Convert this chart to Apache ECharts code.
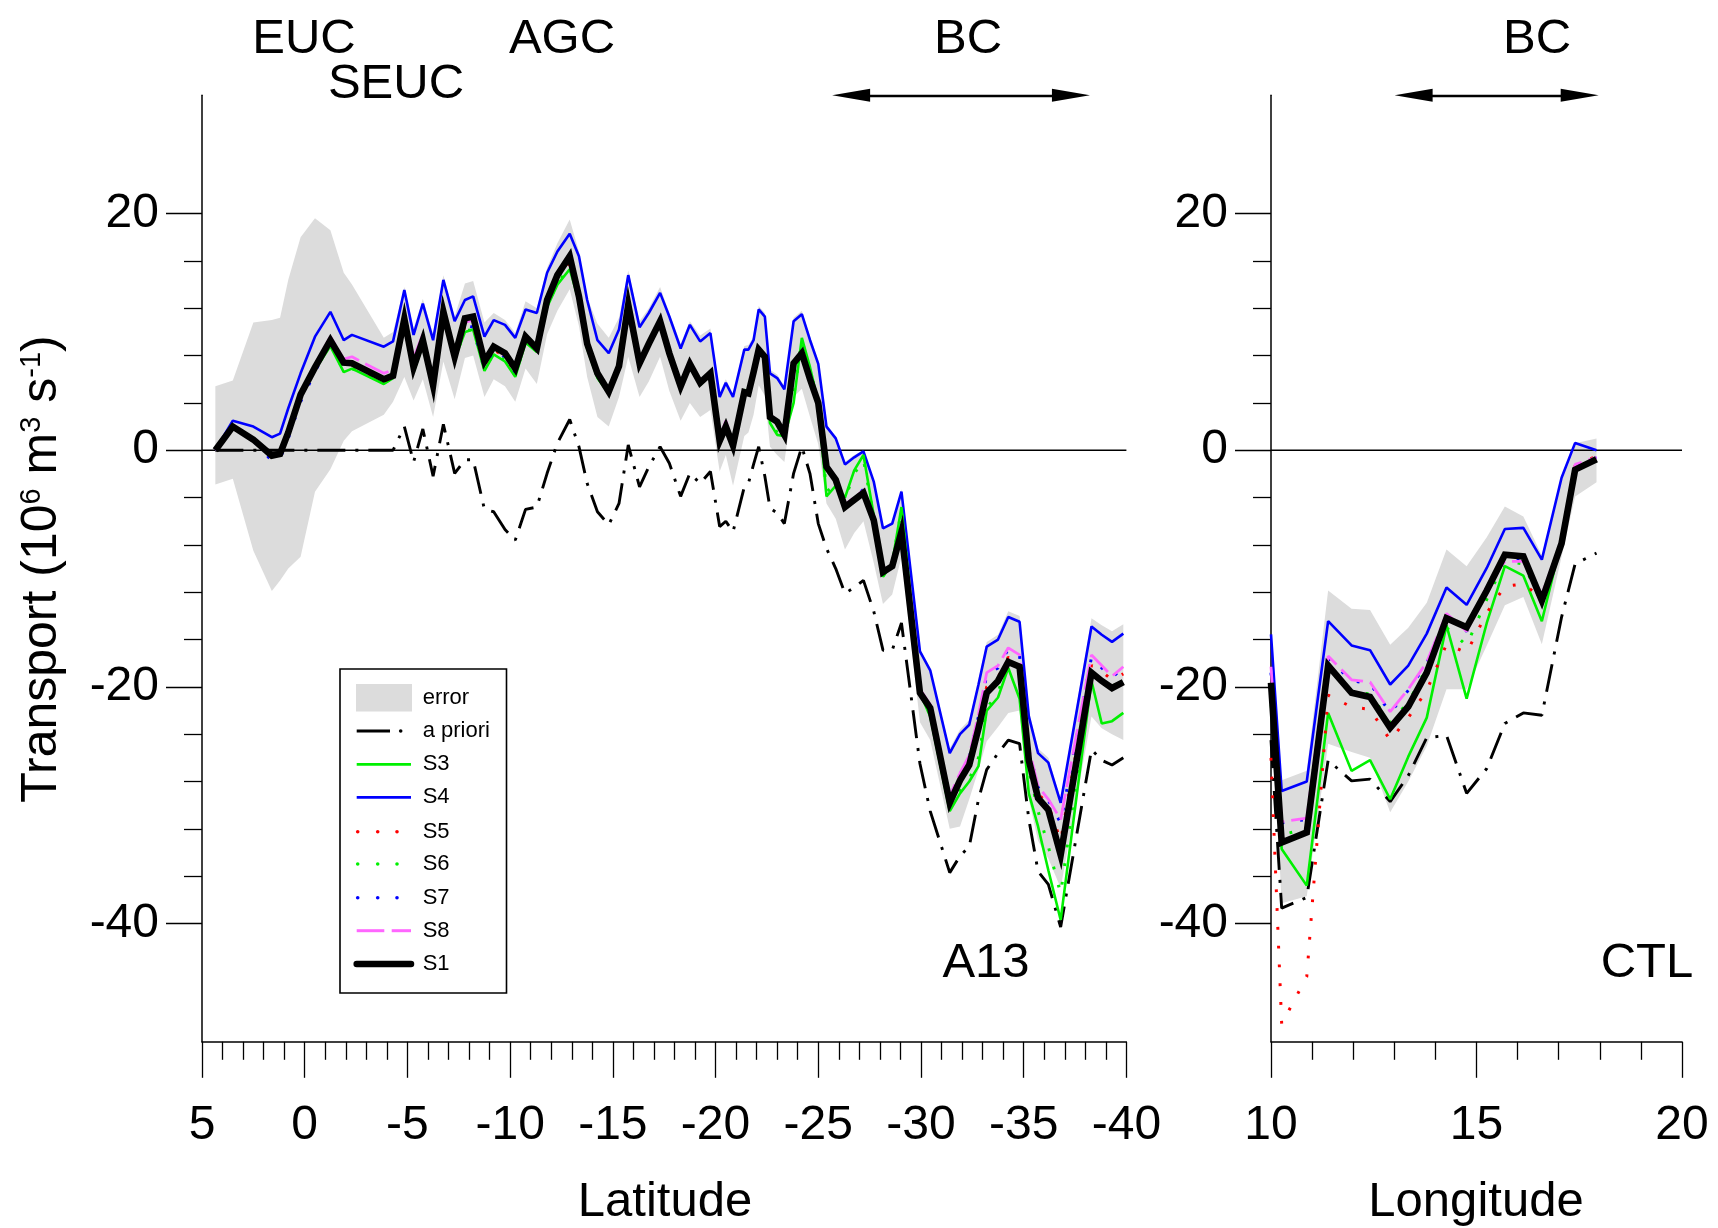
<!DOCTYPE html>
<html><head><meta charset="utf-8">
<script src="https://cdn.jsdelivr.net/npm/echarts@6/dist/echarts.min.js"></script>
<style>html,body{margin:0;padding:0;background:#fff}#c{width:1718px;height:1228px}</style>
</head><body><div id="c"></div>
<script>
// ---------------- DATA: A13 section (latitude) ----------------
const LAT_A13 = [4.35,3.5,2.5,1.6,1.2,0.8,0.2,-0.5,-1.25,-1.9,-2.3,-3.85,-4.3,-4.85,-5.3,-5.75,-6.25,-6.75,-7.3,-7.8,-8.2,-8.75,-9.2,-9.75,-10.25,-10.75,-11.3,-11.8,-12.3,-12.9,-13.35,-13.75,-14.25,-14.8,-15.3,-15.75,-16.3,-16.75,-17.3,-17.75,-18.3,-18.75,-19.25,-19.75,-20.2,-20.5,-20.85,-21.4,-21.6,-21.85,-22.1,-22.4,-22.65,-23.0,-23.35,-23.8,-24.2,-24.6,-25.0,-25.4,-25.85,-26.3,-26.75,-27.2,-27.7,-28.15,-28.6,-29.05,-29.95,-30.45,-31.4,-31.9,-32.35,-32.8,-33.2,-33.75,-34.25,-34.8,-35.25,-35.7,-36.2,-36.8,-38.3,-38.8,-39.3,-39.85];
const S1_A13 = [0,2.0,0.9,-0.45,-0.3,1.5,4.7,7.0,9.3,7.4,7.35,6.0,6.3,11.1,7.0,9.3,5.5,11.7,7.9,11.15,11.3,7.5,8.75,8.2,6.9,9.6,8.6,12.7,14.8,16.4,13.0,9.0,6.5,4.95,7.1,12.3,7.35,9.0,10.9,8.2,5.4,7.3,5.7,6.5,0.8,2.0,0.4,4.9,4.8,6.6,8.5,7.9,2.8,2.4,1.3,7.35,8.2,6.0,4.0,-1.4,-2.5,-4.8,-4.2,-3.6,-5.9,-10.3,-9.8,-6.9,-20.5,-21.8,-29.8,-27.9,-26.6,-23.5,-20.5,-19.5,-17.9,-18.3,-26.2,-29.4,-30.4,-34.2,-18.8,-19.5,-20.1,-19.6];
const S3_A13 = [0,1.9,0.9,-0.45,-0.3,1.5,4.6,6.8,8.8,6.6,6.9,5.6,6.1,10.8,6.6,8.9,5.3,11.2,7.7,10.0,10.2,6.7,8.1,7.5,6.2,9.1,8.3,12.1,14.0,15.3,12.6,8.6,6.1,4.8,6.9,12.0,7.2,8.9,10.9,8.0,5.2,7.4,5.5,6.7,1.0,2.3,0.6,5.1,5.0,6.8,8.3,7.8,2.3,1.3,1.2,4.0,9.5,7.0,4.0,-3.9,-3.0,-4.0,-1.7,-0.4,-5.5,-10.7,-9.55,-4.8,-20.5,-22.5,-30.5,-29.0,-28.0,-26.7,-22.0,-20.9,-18.4,-21.0,-29.0,-31.8,-35.5,-39.7,-19.5,-23.1,-22.9,-22.2];
const S4_A13 = [0,2.5,2.0,1.1,1.4,3.55,6.5,9.6,11.7,9.3,9.75,8.75,9.2,13.55,9.75,12.4,9.3,14.4,10.9,12.7,13.0,9.6,11.0,10.6,9.5,11.9,11.6,15.0,16.8,18.3,16.4,12.7,9.3,8.2,10.2,14.8,10.4,11.6,13.3,11.3,8.6,10.6,9.2,9.9,4.5,5.7,4.5,8.5,8.5,9.3,11.9,11.3,6.5,6.1,5.15,10.9,11.5,9.3,7.3,2.0,1.0,-1.2,-0.6,-0.1,-2.65,-6.6,-6.2,-3.5,-17.0,-18.6,-25.6,-24.0,-23.2,-19.8,-16.6,-16.0,-14.1,-14.5,-22.5,-25.6,-26.4,-29.8,-14.9,-15.6,-16.2,-15.5];
const S5_A13 = [0,2.0,0.9,-0.5,-0.3,1.4,4.6,6.9,9.1,7.2,7.2,5.8,6.2,11.0,6.9,9.2,5.4,11.5,7.8,10.5,10.6,7.2,8.5,7.9,6.6,9.4,8.5,12.4,14.5,15.9,12.8,8.8,6.3,4.9,7.0,12.2,7.3,9.0,10.9,8.1,5.3,7.3,5.6,6.5,0.9,2.2,0.5,5.0,4.9,6.7,8.5,7.9,2.7,2.3,1.3,7.2,8.2,6.0,4.0,-1.5,-2.6,-4.8,-4.0,-3.5,-5.9,-10.2,-9.7,-6.8,-20.4,-21.7,-29.5,-27.6,-26.2,-23.0,-20.0,-19.2,-17.5,-18.0,-25.8,-29.0,-30.0,-33.0,-18.2,-18.7,-19.4,-18.9];
const S6_A13 = [0,1.9,0.9,-0.5,-0.3,1.5,4.6,6.8,8.9,6.7,6.9,5.7,6.1,10.9,6.7,9.0,5.3,11.3,7.7,10.1,10.2,6.8,8.2,7.6,6.3,9.2,8.4,12.2,14.1,15.5,12.7,8.7,6.2,4.8,6.9,12.1,7.2,8.9,10.9,8.0,5.2,7.4,5.5,6.6,1.0,2.3,0.6,5.1,5.0,6.8,8.3,7.8,2.4,1.5,1.2,4.5,9.3,6.8,4.0,-3.5,-2.9,-4.1,-2.0,-0.8,-5.7,-10.6,-9.6,-5.0,-20.5,-22.3,-30.3,-28.8,-27.8,-26.0,-21.8,-20.5,-17.8,-18.5,-27.0,-30.5,-33.5,-37.5,-18.6,-19.5,-20.0,-19.3];
const S7_A13 = [0,2.0,0.8,-0.9,-0.7,1.0,4.1,6.6,9.2,7.3,7.3,6.0,6.3,11.1,7.0,9.3,5.5,11.7,7.9,10.6,10.4,7.0,8.5,7.9,6.6,9.4,8.5,12.5,14.6,16.0,12.9,8.9,6.4,4.9,7.0,12.2,7.3,9.0,10.9,8.1,5.3,7.3,5.6,6.5,0.9,2.2,0.5,5.0,4.9,6.7,8.5,7.9,2.8,2.4,1.3,7.3,8.2,6.0,4.0,-1.4,-2.5,-4.8,-4.1,-3.3,-5.9,-10.2,-9.7,-6.8,-20.3,-21.6,-29.3,-27.4,-25.9,-22.5,-19.0,-18.4,-16.8,-17.4,-25.3,-28.5,-29.6,-31.5,-17.5,-18.4,-19.2,-18.4];
const S8_A13 = [0,2.0,0.9,-0.45,-0.3,1.5,4.7,7.2,9.6,7.7,7.9,6.5,6.8,11.3,7.8,9.8,5.9,11.9,8.2,10.8,11.0,7.4,8.6,8.0,6.8,9.5,8.7,12.8,15.0,16.0,13.0,9.0,6.7,5.1,7.2,12.3,7.5,9.2,11.0,8.4,5.6,7.6,5.9,6.5,1.0,2.5,0.5,5.0,4.9,6.7,8.6,8.0,3.0,2.5,1.4,7.4,8.3,6.2,4.1,-1.2,-2.3,-4.6,-4.0,-3.4,-5.7,-10.1,-9.6,-6.6,-20.2,-21.5,-29.2,-27.3,-25.8,-22.3,-18.8,-18.2,-16.7,-17.3,-25.2,-28.4,-29.5,-31.2,-17.3,-18.2,-19.1,-18.3];
const APRIORI_A13 = [0,0,0,0,0,0,0,0,0,0,0,0,0,2.0,-1.0,1.8,-2.2,2.2,-1.95,-0.8,-0.8,-5.0,-5.2,-6.7,-7.6,-5.0,-4.8,-1.95,0.6,2.6,0.3,-2.8,-5.2,-6.3,-4.5,0.45,-3.1,-1.4,0.3,-1.1,-3.9,-1.95,-2.8,-1.8,-6.45,-6.0,-6.9,-3.1,-2.8,-1.2,0.3,-2.2,-4.9,-5.3,-6.2,-1.95,0.3,-2.0,-6.2,-8.3,-10.0,-12.1,-11.6,-11.0,-13.6,-16.9,-16.9,-14.6,-26.5,-30.5,-35.7,-34.3,-33.5,-29.5,-27.0,-25.6,-24.5,-24.8,-31.2,-35.6,-36.7,-40.3,-25.3,-26.2,-26.6,-26.0];
const ERR_LO_A13 = [-2.9,-2.4,-8.5,-11.9,-11.0,-10.0,-9.0,-3.5,-1.6,0.8,1.6,3.0,4.1,6.2,4.2,6.0,2.8,7.5,4.3,7.8,8.0,4.5,6.0,5.4,4.1,6.9,5.6,9.8,11.8,13.6,10.5,6.2,2.8,2.0,4.5,7.9,4.5,5.8,7.9,5.0,2.5,4.0,2.8,3.4,-1.8,-0.4,-3.0,1.2,1.5,3.0,5.5,4.6,0.3,-0.4,-1.0,4.5,5.2,2.8,0.5,-4.5,-5.8,-8.4,-7.0,-6.0,-9.5,-13.0,-12.2,-9.0,-23.0,-24.5,-32.0,-31.8,-29.5,-27.0,-24.6,-23.4,-22.2,-22.0,-29.5,-33.0,-34.5,-37.0,-22.5,-23.5,-24.0,-24.5];
const ERR_HI_A13 = [5.4,5.9,10.8,11.0,11.2,14.4,18.0,19.6,18.6,15.0,14.0,9.5,10.0,13.8,10.3,12.8,9.8,14.8,11.3,14.1,14.3,10.8,11.6,11.0,9.9,12.6,12.0,15.4,17.5,19.5,16.8,12.9,10.7,9.5,11.2,15.2,10.9,12.0,13.8,11.6,9.0,10.9,9.7,10.3,4.9,6.0,4.8,8.8,8.9,9.6,12.2,11.6,6.8,6.4,5.4,11.2,11.8,9.6,7.6,2.2,1.1,-1.0,-0.4,0.0,-2.5,-6.5,-6.0,-3.3,-16.8,-18.4,-25.2,-23.6,-22.8,-19.4,-16.2,-15.6,-13.6,-14.0,-22.0,-25.2,-26.0,-29.5,-14.2,-14.8,-15.3,-14.7];

// ---------------- DATA: CTL section (longitude) ----------------
const LON_CTL = [10.0,10.26,10.87,11.39,11.96,12.41,12.9,13.34,13.79,14.27,14.76,15.25,15.69,16.14,16.59,17.07,17.4,17.92];
const S1_CTL = [-19.65,-33.15,-32.3,-18.2,-20.5,-20.85,-23.45,-21.66,-18.8,-14.2,-14.97,-11.86,-8.84,-8.98,-12.7,-7.87,-1.64,-0.77];
const S3_CTL = [-21.5,-33.7,-36.8,-22.2,-27.1,-26.2,-29.5,-25.9,-22.6,-14.8,-21.0,-14.6,-9.8,-10.6,-14.45,-7.6,-1.6,-0.9];
const S4_CTL = [-15.56,-28.8,-28.0,-14.45,-16.5,-16.9,-19.8,-18.2,-15.5,-11.6,-13.06,-9.95,-6.66,-6.56,-9.25,-2.33,0.62,0.0];
const S5_CTL = [-26.0,-48.5,-44.5,-20.7,-21.7,-21.9,-24.5,-22.6,-20.3,-16.4,-17.1,-13.75,-11.5,-11.3,-12.5,-7.8,-1.3,-0.5];
const S6_CTL = [-20.5,-32.5,-32.0,-18.5,-20.4,-20.6,-23.0,-21.3,-18.4,-15.0,-16.5,-12.6,-9.4,-9.6,-12.9,-7.9,-1.5,-0.7];
const S7_CTL = [-18.8,-31.5,-31.2,-17.6,-19.5,-19.7,-22.2,-20.3,-18.0,-13.9,-15.3,-11.6,-9.3,-9.2,-12.4,-7.7,-1.3,-0.6];
const S8_CTL = [-18.3,-31.4,-31.1,-17.4,-19.4,-19.6,-22.1,-20.2,-17.9,-13.8,-15.3,-11.5,-9.4,-9.4,-12.2,-7.6,-1.2,-0.6];
const APRIORI_CTL = [-24.5,-38.7,-37.8,-26.2,-27.95,-27.8,-29.7,-27.5,-24.3,-24.1,-29.0,-26.9,-23.1,-22.2,-22.4,-14.1,-9.6,-8.7];
const ERR_LO_CTL = [-21.0,-38.3,-37.7,-24.8,-25.5,-26.0,-30.6,-28.0,-25.0,-20.2,-20.2,-16.5,-13.1,-12.4,-16.4,-9.0,-3.9,-2.7];
const ERR_HI_CTL = [-18.5,-27.9,-27.1,-11.85,-13.4,-13.5,-16.45,-15.0,-12.9,-8.4,-9.8,-7.35,-4.76,-5.6,-8.9,-2.3,0.6,1.0];

// ---------------- axes / annotations ----------------
const LAT_RANGE = [-40, 5];
const LON_RANGE = [10, 20];
const Y_RANGE = [-50, 30];
const Y_MAJOR = [-40, -20, 0, 20];
const Y_MINOR = [-36, -32, -28, -24, -16, -12, -8, -4, 4, 8, 12, 16];
const BC_A13 = [-26.6, -37.3];
const BC_CTL = [13.47, 17.51];
const LEGEND_LABELS = ['error', 'a priori', 'S3', 'S4', 'S5', 'S6', 'S7', 'S8', 'S1'];

const FONT = '"Liberation Sans", Arial, Helvetica, sans-serif';
const chart = echarts.init(document.getElementById('c'), null, {renderer: 'canvas'});
const pairs = (xs, ys) => xs.map((x, i) => [x, ys[i]]);

function bandRender(xs, lo, hi) {
  return function (params, api) {
    if (params.dataIndex !== 0) return null;
    const pts = [];
    for (let i = 0; i < xs.length; i++) pts.push(api.coord([xs[i], hi[i]]));
    for (let i = xs.length - 1; i >= 0; i--) pts.push(api.coord([xs[i], lo[i]]));
    return {type: 'polygon', shape: {points: pts}, style: {fill: '#dcdcdc'}, silent: true};
  };
}

const STY = {
  ap: {color: '#000', width: 2.9, type: [28, 10, 3, 10], cap: 'butt'},
  s3: {color: '#00f000', width: 2.6},
  s4: {color: '#0000ff', width: 2.6},
  s5: {color: '#ff0000', width: 3, type: [2.8, 16]},
  s6: {color: '#00f000', width: 3, type: [2.8, 16]},
  s7: {color: '#0000ff', width: 3, type: [2.8, 16]},
  s8: {color: '#ff66ff', width: 2.8, type: [26, 7]},
  s1: {color: '#000', width: 6.6, join: 'miter'}
};

function line(name, xs, ys, style, gi, z) {
  return {type: 'line', name, xAxisIndex: gi, yAxisIndex: gi * 2, data: pairs(xs, ys),
    symbol: 'none', showSymbol: false, lineStyle: style, z, silent: true, animation: false};
}

function panelSeries(gi, xs, d, range, bc) {
  return [
    {type: 'custom', xAxisIndex: gi, yAxisIndex: gi * 2, data: [[xs[0], d.lo[0]]],
      renderItem: bandRender(xs, d.lo, d.hi), z: 1, silent: true, animation: false},
    {type: 'line', xAxisIndex: gi, yAxisIndex: gi * 2, data: [[range[0], 0], [range[1], 0]],
      symbol: 'none', lineStyle: {color: '#000', width: 1.4}, z: 2, clip: false, silent: true, animation: false,
      markLine: {silent: true, animation: false, symbol: ['triangle', 'triangle'], symbolSize: [13, 38],
        label: {show: false}, lineStyle: {color: '#000', width: 2.4, type: 'solid'},
        itemStyle: {color: '#000'},
        data: [[{coord: [bc[0], Y_RANGE[1]]}, {coord: [bc[1], Y_RANGE[1]]}]]}},
    line('a priori', xs, d.ap, STY.ap, gi, 3),
    line('S4', xs, d.s4, STY.s4, gi, 4),
    line('S3', xs, d.s3, STY.s3, gi, 5),
    line('S5', xs, d.s5, STY.s5, gi, 6),
    line('S6', xs, d.s6, STY.s6, gi, 6),
    line('S7', xs, d.s7, STY.s7, gi, 6),
    line('S8', xs, d.s8, STY.s8, gi, 7),
    line('S1', xs, d.s1, STY.s1, gi, 8)
  ];
}

const axisLineStyle = {color: '#000', width: 1.5};
const tickStyle = {color: '#000', width: 1.3};
const labelStyle = {fontSize: 48, color: '#000', fontFamily: FONT};

function xAxis(gi, range, inverse) {
  return {type: 'value', gridIndex: gi, min: range[0], max: range[1], inverse, interval: 5,
    axisLine: {show: true, onZero: false, lineStyle: axisLineStyle},
    axisTick: {show: true, length: 36, lineStyle: tickStyle},
    minorTick: {show: true, splitNumber: 5, length: 18, lineStyle: tickStyle},
    axisLabel: Object.assign({margin: 60}, labelStyle),
    splitLine: {show: false}, minorSplitLine: {show: false}};
}
function yAxes(gi) {
  return [
    {type: 'value', gridIndex: gi, min: Y_RANGE[0], max: Y_RANGE[1], position: 'left',
      axisLine: {show: true, onZero: false, lineStyle: axisLineStyle},
      axisTick: {show: true, customValues: Y_MAJOR, length: 36, lineStyle: tickStyle},
      axisLabel: Object.assign({customValues: Y_MAJOR, margin: 43}, labelStyle),
      splitLine: {show: false}},
    {type: 'value', gridIndex: gi, min: Y_RANGE[0], max: Y_RANGE[1], position: 'left', offset: 0,
      axisLine: {show: false, onZero: false},
      axisTick: {show: true, customValues: Y_MINOR, length: 18, lineStyle: tickStyle},
      axisLabel: {show: false}, splitLine: {show: false}}
  ];
}

function txt(text, x, y, size, extra) {
  return Object.assign({type: 'text', x, y, z: 50, silent: true,
    style: {text, fontSize: size, fontFamily: FONT, fill: '#000', align: 'center', verticalAlign: 'middle'}}, extra || {});
}

// legend (drawn as graphic)
const LX1 = 356.7, LX2 = 411, LTX = 422.7;
const LROWS = [697.7, 731, 764.3, 797.3, 831.7, 864, 897.7, 930.7, 964];
const legend = [
  {type: 'rect', shape: {x: 340, y: 669, width: 166.5, height: 324}, style: {fill: '#fff', stroke: '#000', lineWidth: 1.6}},
  {type: 'rect', shape: {x: 356, y: 684, width: 56, height: 27.5}, style: {fill: '#dcdcdc'}},
  {type: 'line', shape: {x1: LX1, y1: LROWS[1], x2: 390, y2: LROWS[1]}, style: {stroke: '#000', lineWidth: 2.8}},
  {type: 'circle', shape: {cx: 400.7, cy: LROWS[1], r: 1.8}, style: {fill: '#000'}},
  {type: 'line', shape: {x1: LX1, y1: LROWS[2], x2: LX2, y2: LROWS[2]}, style: {stroke: '#00f000', lineWidth: 2.8}},
  {type: 'line', shape: {x1: LX1, y1: LROWS[3], x2: LX2, y2: LROWS[3]}, style: {stroke: '#0000ff', lineWidth: 2.8}},
  {type: 'line', shape: {x1: LX1, y1: LROWS[7], x2: 384.3, y2: LROWS[7]}, style: {stroke: '#ff66ff', lineWidth: 3}},
  {type: 'line', shape: {x1: 391.7, y1: LROWS[7], x2: LX2, y2: LROWS[7]}, style: {stroke: '#ff66ff', lineWidth: 3}},
  {type: 'line', shape: {x1: LX1, y1: LROWS[8], x2: LX2, y2: LROWS[8]}, style: {stroke: '#000', lineWidth: 6.5, lineCap: 'round'}}
];
[['#ff0000', 4], ['#00f000', 5], ['#0000ff', 6]].forEach(([c, r]) => {
  [357.7, 377.7, 397].forEach(x => legend.push({type: 'circle', shape: {cx: x, cy: LROWS[r], r: 1.8}, style: {fill: c}}));
});
LEGEND_LABELS.forEach((t, i) => legend.push({type: 'text', x: LTX, y: LROWS[i],
  style: {text: t, fontSize: 22, fontFamily: FONT, fill: '#000', align: 'left', verticalAlign: 'middle'}}));

const option = {
  animation: false,
  backgroundColor: '#fff',
  textStyle: {fontFamily: FONT},
  grid: [
    {left: 202, top: 95.3, width: 924.4, height: 946.5},
    {left: 1271, top: 95.3, width: 411, height: 946.5}
  ],
  xAxis: [xAxis(0, LAT_RANGE, true), xAxis(1, LON_RANGE, false)],
  yAxis: yAxes(0).concat(yAxes(1)),
  series: [].concat(
    panelSeries(0, LAT_A13, {lo: ERR_LO_A13, hi: ERR_HI_A13, ap: APRIORI_A13, s1: S1_A13, s3: S3_A13, s4: S4_A13,
      s5: S5_A13, s6: S6_A13, s7: S7_A13, s8: S8_A13}, LAT_RANGE, BC_A13),
    panelSeries(1, LON_CTL, {lo: ERR_LO_CTL, hi: ERR_HI_CTL, ap: APRIORI_CTL, s1: S1_CTL, s3: S3_CTL, s4: S4_CTL,
      s5: S5_CTL, s6: S6_CTL, s7: S7_CTL, s8: S8_CTL}, LON_RANGE, BC_CTL)
  ),
  graphic: [
    txt('EUC', 304, 39, 49),
    txt('SEUC', 396, 84, 49),
    txt('AGC', 562, 39, 49),
    txt('BC', 968, 39, 49),
    txt('BC', 1537, 39, 49),
    txt('A13', 986, 963, 49),
    txt('CTL', 1647, 963, 49),
    txt('Latitude', 665, 1202, 49),
    txt('Longitude', 1476, 1202, 49),
    {type: 'text', x: 42, y: 569, rotation: Math.PI / 2, z: 50, silent: true,
      style: {text: 'Transport (10{sup|6} m{sup|3} s{sup|-1})', fontSize: 50, fontFamily: FONT, fill: '#000',
        align: 'center', verticalAlign: 'middle',
        rich: {sup: {fontSize: 29, fontFamily: FONT, verticalAlign: 'top', lineHeight: 31, fill: '#000'}}}},
    {type: 'group', z: 60, children: legend}
  ]
};
chart.setOption(option);
</script>
</body></html>
